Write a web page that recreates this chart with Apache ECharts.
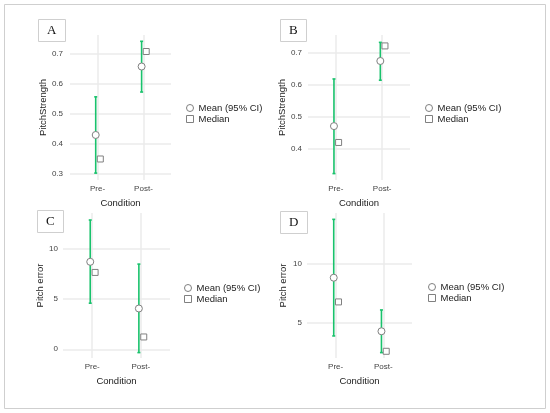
<!DOCTYPE html>
<html>
<head>
<meta charset="utf-8">
<script src="https://cdn.jsdelivr.net/npm/echarts@6/dist/echarts.min.js"></script>
<style>
  html, body { margin: 0; padding: 0; background: #fff; }
  #chart { width: 550px; height: 413px; }
</style>
</head>
<body>
<div id="chart"></div>
<script>
// data, one block per panel
var conditions = ['Pre-', 'Post-'];
var panelLabels = ['A', 'B', 'C', 'D'];
var yNames = ['PitchStrength', 'PitchStrength', 'Pitch error', 'Pitch error'];

var meanA = [0.43, 0.658];
var ciLowA = [0.303, 0.573];
var ciHighA = [0.557, 0.742];
var medianA = [0.35, 0.708];
var ticksA = [0.3, 0.4, 0.5, 0.6, 0.7];

var meanB = [0.47, 0.673];
var ciLowB = [0.322, 0.613];
var ciHighB = [0.617, 0.731];
var medianB = [0.419, 0.72];
var ticksB = [0.4, 0.5, 0.6, 0.7];

var meanC = [8.73, 4.07];
var ciLowC = [4.6, -0.33];
var ciHighC = [12.9, 8.5];
var medianC = [7.67, 1.23];
var ticksC = [0, 5, 10];

var meanD = [8.8, 4.33];
var ciLowD = [3.94, 2.55];
var ciHighD = [13.67, 6.11];
var medianD = [6.78, 2.66];
var ticksD = [5, 10];

var panels = [
    {mean: meanA, lo: ciLowA, hi: ciHighA, med: medianA, ticks: ticksA, ymin: 0.28, ymax: 0.763,
     grid: {left: 70, top: 35, width: 101, height: 145}, box: [38, 19], legend: [186, 103], gap: 22, margin: 7},
    {mean: meanB, lo: ciLowB, hi: ciHighB, med: medianB, ticks: ticksB, ymin: 0.302, ymax: 0.754,
     grid: {left: 308, top: 35, width: 102, height: 145}, box: [280, 19], legend: [425, 103], gap: 20, margin: 6},
    {mean: meanC, lo: ciLowC, hi: ciHighC, med: medianC, ticks: ticksC, ymin: -0.87, ymax: 13.6,
     grid: {left: 63, top: 213, width: 107, height: 145}, box: [37, 210], legend: [184, 283], gap: 17, margin: 5},
    {mean: meanD, lo: ciLowD, hi: ciHighD, med: medianD, ticks: ticksD, ymin: 2.1, ymax: 14.2,
     grid: {left: 307, top: 213, width: 105, height: 145}, box: [280, 211], legend: [428, 282], gap: 19, margin: 5}
];

var green = '#19c26c';
var gridColor = '#ebebeb';
var pointBorder = '#808080';
var font = 'Liberation Sans';

var grids = [], xAxes = [], yAxes = [], series = [], legends = [], titles = [];

panels.forEach(function (p, i) {
    grids.push(p.grid);
    titles.push({
        text: panelLabels[i],
        left: p.box[0], top: p.box[1],
        borderColor: '#cfcfcf', borderWidth: 1,
        padding: [5, 9, 5, 9],
        textStyle: {fontFamily: 'Liberation Serif', fontSize: 13, fontWeight: 'normal', color: '#111'}
    });
    xAxes.push({
        type: 'value', gridIndex: i, min: 0.4, max: 2.6,
        name: 'Condition', nameLocation: 'middle', nameGap: 18,
        nameTextStyle: {fontFamily: font, fontSize: 9.5, color: '#222'},
        axisLine: {show: false},
        axisTick: {show: false, customValues: [1, 2]},
        axisLabel: {customValues: [1, 2], margin: 5, fontFamily: font, fontSize: 8, color: '#444'},
        splitLine: {show: true, lineStyle: {color: gridColor, width: 1.5}}
    });
    xAxes[i].axisLabel.formatter = function (v) { return conditions[Math.round(v) - 1] || ''; };
    yAxes.push({
        type: 'value', gridIndex: i, min: p.ymin, max: p.ymax,
        name: yNames[i], nameLocation: 'middle', nameGap: p.gap,
        nameTextStyle: {fontFamily: font, fontSize: 9.5, color: '#222'},
        axisLine: {show: false},
        axisTick: {show: false, customValues: p.ticks},
        axisLabel: {customValues: p.ticks, margin: p.margin, fontFamily: font, fontSize: 8, color: '#444'},
        splitLine: {show: true, lineStyle: {color: gridColor, width: 1.5}}
    });

    // CI whisker, dodged a little left together with the mean
    series.push({
        name: 'CI', type: 'custom', xAxisIndex: i, yAxisIndex: i, z: 2,
        data: p.mean.map(function (m, k) { return [k + 1 - 0.04, p.lo[k], p.hi[k]]; }),
        renderItem: function (params, api) {
            var a = api.coord([api.value(0), api.value(1)]);
            var b = api.coord([api.value(0), api.value(2)]);
            var s = {stroke: green, lineWidth: 1.6};
            return {type: 'group', children: [
                {type: 'line', shape: {x1: a[0], y1: a[1], x2: b[0], y2: b[1]}, style: s},
                {type: 'line', shape: {x1: a[0] - 1.5, y1: a[1], x2: a[0] + 1.5, y2: a[1]}, style: s},
                {type: 'line', shape: {x1: b[0] - 1.5, y1: b[1], x2: b[0] + 1.5, y2: b[1]}, style: s}
            ]};
        }
    });
    series.push({
        name: 'Mean (95% CI)', type: 'scatter', xAxisIndex: i, yAxisIndex: i, z: 3,
        symbol: 'circle', symbolSize: 7,
        itemStyle: {color: '#fff', borderColor: pointBorder, borderWidth: 1, opacity: 1},
        data: p.mean.map(function (m, k) { return [k + 1 - 0.04, m]; })
    });
    series.push({
        name: 'Median', type: 'scatter', xAxisIndex: i, yAxisIndex: i, z: 3,
        symbol: 'rect', symbolSize: 6,
        itemStyle: {color: '#fff', borderColor: pointBorder, borderWidth: 1, opacity: 1},
        data: p.med.map(function (m, k) { return [k + 1 + 0.06, m]; })
    });
    legends.push({
        left: p.legend[0], top: p.legend[1], orient: 'vertical',
        padding: 0,
        itemWidth: 7, itemHeight: 7, itemGap: 1,
        selectedMode: false,
        textStyle: {fontFamily: font, fontSize: 9.5, color: '#222', lineHeight: 10},
        data: [
            {name: 'Mean (95% CI)', icon: 'circle', itemStyle: {color: '#fff', borderColor: pointBorder, borderWidth: 1}},
            {name: 'Median', icon: 'rect', itemStyle: {color: '#fff', borderColor: pointBorder, borderWidth: 1}}
        ]
    });
});

var option = {
    animation: false,
    backgroundColor: '#fff',
    title: titles,
    legend: legends,
    grid: grids,
    xAxis: xAxes,
    yAxis: yAxes,
    series: series,
    graphic: [{
        type: 'rect', silent: true,
        shape: {x: 4.5, y: 4.5, width: 541, height: 404},
        style: {fill: 'none', stroke: '#cfcfcf', lineWidth: 1}
    }]
};

var mychart = echarts.init(document.getElementById('chart'));
mychart.setOption(option);
</script>
</body>
</html>
